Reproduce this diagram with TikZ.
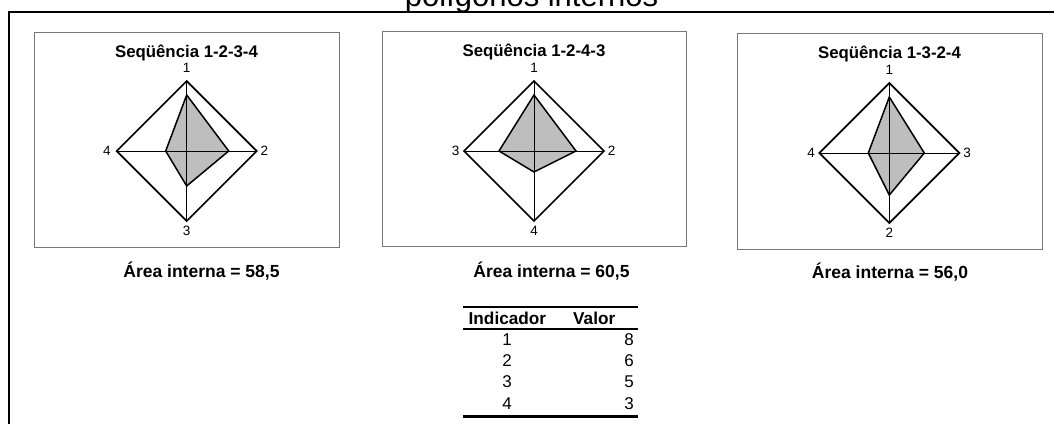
\documentclass[tikz,border=0pt]{standalone}
\usepackage{fontspec}
\setmainfont{Liberation Sans}
\definecolor{boxgray}{RGB}{120,120,120}
\definecolor{polyfill}{RGB}{190,190,190}
\begin{document}
\begin{tikzpicture}[x=1pt,y=-1pt,
  frameline/.style={line width=2pt,black,line join=miter},
  panelbox/.style={draw=boxgray,line width=1pt},
  outerdia/.style={draw=black,line width=1.7pt,line join=miter},
  axisline/.style={draw=black,line width=0.7pt},
  innerpoly/.style={draw=black,fill=polyfill,line width=1.5pt,line join=miter},
  vlabel/.style={font=\fontsize{13.5}{15}\selectfont,inner sep=0pt},
  ptitle/.style={font=\bfseries\fontsize{16.8}{20}\selectfont,anchor=base,inner sep=0pt},
  areatext/.style={font=\bfseries\fontsize{17.5}{20}\selectfont,anchor=base,inner sep=0pt},
  tabhead/.style={font=\bfseries\fontsize{17.2}{20}\selectfont,anchor=base west,inner sep=0pt},
  tabnum/.style={font=\fontsize{17}{20}\selectfont,inner sep=0pt},
  toprule/.style={line width=2.2pt},
  midrule/.style={line width=1.3pt},
  botrule/.style={line width=3pt}]
\useasboundingbox (0,0) rectangle (1054,423);

% page title (cut by the top edge)
\begin{scope}
\clip (0,0) rectangle (1054,10);
\node[font=\fontsize{31}{34}\selectfont,anchor=base,inner sep=0pt] (pagetitle) at (531.5,6.5) {polígonos internos};
\end{scope}

% frame
\coordinate (fTR) at (1054,12);
\coordinate (fTL) at (8.5,12);
\coordinate (fBL) at (8.5,424);
\draw[frameline] (fTR) -- (fTL) -- (fBL);

% ---------- panel 1 ----------
\draw[panelbox] (34,32) rectangle (339,247);
\node[ptitle] (t1) at (186.5,57) {Seqüência 1-2-3-4};
\coordinate (a1T) at (186.7,81);
\coordinate (a1R) at (256.7,151);
\coordinate (a1B) at (186.7,221);
\coordinate (a1L) at (116.7,151);
\draw[axisline] (a1T) -- (a1B);
\draw[axisline] (a1L) -- (a1R);
\draw[outerdia] (a1T) -- (a1R) -- (a1B) -- (a1L) -- cycle;
\coordinate (p1T) at (186.7,95);
\coordinate (p1R) at (228.7,151);
\coordinate (p1B) at (186.7,186);
\coordinate (p1L) at (165.7,151);
\draw[innerpoly] (p1T) -- (p1R) -- (p1B) -- (p1L) -- cycle;
\draw[axisline] (p1T) -- (p1B);
\draw[axisline] (p1L) -- (p1R);
\node[vlabel] (l1T) at (186.7,68) {1};
\node[vlabel] (l1R) at (264.5,151) {2};
\node[vlabel] (l1B) at (186.7,231) {3};
\node[vlabel] (l1L) at (107,151) {4};
\node[areatext] (ar1) at (201.5,277) {Área interna = 58,5};

% ---------- panel 2 ----------
\draw[panelbox] (382,31) rectangle (686.7,246.7);
\node[ptitle] (t2) at (534,56.7) {Seqüência 1-2-4-3};
\coordinate (a2T) at (534,81);
\coordinate (a2R) at (604,151);
\coordinate (a2B) at (534,221);
\coordinate (a2L) at (464,151);
\draw[axisline] (a2T) -- (a2B);
\draw[axisline] (a2L) -- (a2R);
\draw[outerdia] (a2T) -- (a2R) -- (a2B) -- (a2L) -- cycle;
\coordinate (p2T) at (534,95);
\coordinate (p2R) at (576,151);
\coordinate (p2B) at (534,172);
\coordinate (p2L) at (499,151);
\draw[innerpoly] (p2T) -- (p2R) -- (p2B) -- (p2L) -- cycle;
\draw[axisline] (p2T) -- (p2B);
\draw[axisline] (p2L) -- (p2R);
\node[vlabel] (l2T) at (534,68) {1};
\node[vlabel] (l2R) at (611.5,151) {2};
\node[vlabel] (l2B) at (534,231) {4};
\node[vlabel] (l2L) at (455.5,151) {3};
\node[areatext] (ar2) at (551.5,277.5) {Área interna = 60,5};

% ---------- panel 3 ----------
\draw[panelbox] (737,33) rectangle (1042,249);
\node[ptitle] (t3) at (889.5,58) {Seqüência 1-3-2-4};
\coordinate (a3T) at (889.3,83);
\coordinate (a3R) at (959.3,153);
\coordinate (a3B) at (889.3,223);
\coordinate (a3L) at (819.3,153);
\draw[axisline] (a3T) -- (a3B);
\draw[axisline] (a3L) -- (a3R);
\draw[outerdia] (a3T) -- (a3R) -- (a3B) -- (a3L) -- cycle;
\coordinate (p3T) at (889.3,97);
\coordinate (p3R) at (924.3,153);
\coordinate (p3B) at (889.3,195);
\coordinate (p3L) at (868.3,153);
\draw[innerpoly] (p3T) -- (p3R) -- (p3B) -- (p3L) -- cycle;
\draw[axisline] (p3T) -- (p3B);
\draw[axisline] (p3L) -- (p3R);
\node[vlabel] (l3T) at (889.3,70) {1};
\node[vlabel] (l3R) at (967,153) {3};
\node[vlabel] (l3B) at (889.3,233) {2};
\node[vlabel] (l3L) at (811,153) {4};
\node[areatext] (ar3) at (890,278) {Área interna = 56,0};

% ---------- table ----------
\coordinate (trL) at (463,306.7);
\coordinate (trR) at (638,306.7);
\coordinate (mrL) at (463,329);
\coordinate (mrR) at (638,329);
\coordinate (brL) at (463,416.5);
\coordinate (brR) at (638,416.5);
\draw[toprule] (trL) -- (trR);
\draw[midrule] (mrL) -- (mrR);
\draw[botrule] (brL) -- (brR);
\node[tabhead] (hInd) at (468.5,324) {Indicador};
\node[tabhead] (hVal) at (573,324) {Valor};
\node[tabnum,anchor=base] (i1) at (507,345) {1};
\node[tabnum,anchor=base] (i2) at (507,366) {2};
\node[tabnum,anchor=base] (i3) at (507,387.5) {3};
\node[tabnum,anchor=base] (i4) at (507,409) {4};
\node[tabnum,anchor=base east] (v1) at (634,345) {8};
\node[tabnum,anchor=base east] (v2) at (634,366) {6};
\node[tabnum,anchor=base east] (v3) at (634,387.5) {5};
\node[tabnum,anchor=base east] (v4) at (634,409) {3};
\end{tikzpicture}
\end{document}
